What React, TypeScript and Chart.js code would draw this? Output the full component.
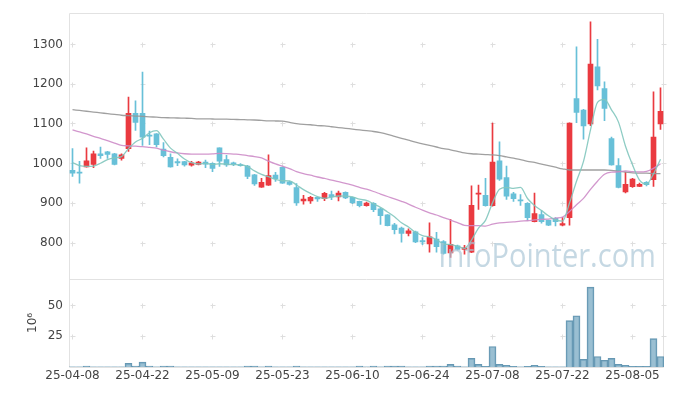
import React, { useEffect, useRef } from "react";
import { Chart, registerables } from "chart.js";

Chart.register(...registerables);

const dates = [
  "25-04-08", "25-04-09", "25-04-10", "25-04-11", "25-04-14", "25-04-15", "25-04-16", "25-04-17", "25-04-18", "25-04-21",
  "25-04-22", "25-04-23", "25-04-24", "25-04-25", "25-04-28", "25-04-29", "25-04-30", "25-05-02", "25-05-07", "25-05-08",
  "25-05-09", "25-05-12", "25-05-13", "25-05-14", "25-05-15", "25-05-16", "25-05-19", "25-05-20", "25-05-21", "25-05-22",
  "25-05-23", "25-05-26", "25-05-27", "25-05-28", "25-05-29", "25-05-30", "25-06-02", "25-06-04", "25-06-05", "25-06-09",
  "25-06-10", "25-06-11", "25-06-12", "25-06-13", "25-06-16", "25-06-17", "25-06-18", "25-06-19", "25-06-20", "25-06-23",
  "25-06-24", "25-06-25", "25-06-26", "25-06-27", "25-06-30", "25-07-01", "25-07-02", "25-07-03", "25-07-04", "25-07-07",
  "25-07-08", "25-07-09", "25-07-10", "25-07-11", "25-07-14", "25-07-15", "25-07-16", "25-07-17", "25-07-18", "25-07-21",
  "25-07-22", "25-07-23", "25-07-24", "25-07-25", "25-07-28", "25-07-29", "25-07-30", "25-07-31", "25-08-01", "25-08-04",
  "25-08-05", "25-08-06", "25-08-07", "25-08-08", "25-08-11",
];

const opens = [
  983, 979, 992, 998, 1025, 1030, 1025, 1013, 1038, 1127,
  1127, 1072, 1075, 1037, 1016, 1005, 1005, 996, 998, 1004,
  1001, 1040, 1010, 1002, 998, 994, 972, 941, 946, 971,
  991, 954, 940, 906, 906, 915, 912, 922, 916, 928,
  915, 905, 894, 900, 886, 871, 846, 838, 824, 828,
  806, 798, 810, 804, 775, 793, 784, 777, 923, 920,
  894, 1007, 965, 924, 909, 900, 854, 872, 857, 862,
  845, 864, 1164, 1135, 1100, 1244, 1189, 1063, 995, 929,
  942, 943, 953, 960, 1100,
];
const highs = [
  1038, 1006, 1040, 1032, 1042, 1031, 1026, 1025, 1168, 1158,
  1231, 1082, 1076, 1053, 1025, 1012, 1006, 1006, 1006, 1009,
  1002, 1040, 1021, 1004, 1000, 996, 973, 963, 1022, 978,
  992, 956, 950, 920, 918, 916, 928, 931, 931, 929,
  916, 906, 903, 902, 888, 872, 850, 840, 836, 830,
  814, 851, 827, 806, 860, 795, 794, 944, 946, 963,
  1102, 1055, 994, 928, 922, 902, 926, 882, 858, 864,
  865, 1103, 1294, 1137, 1357, 1313, 1206, 1067, 1013, 978,
  963, 951, 955, 1181, 1191,
];
const lows = [
  968, 951, 991, 990, 1013, 1013, 997, 1009, 1031, 1084,
  1046, 1048, 1042, 1017, 991, 995, 994, 994, 997, 990,
  980, 993, 993, 995, 994, 962, 945, 940, 945, 955,
  950, 946, 895, 898, 900, 905, 907, 909, 906, 912,
  899, 891, 893, 879, 847, 843, 823, 802, 818, 801,
  796, 777, 777, 772, 764, 782, 772, 776, 885, 893,
  893, 958, 910, 905, 895, 857, 853, 850, 844, 843,
  843, 845, 1103, 1062, 1096, 1186, 1108, 996, 939, 926,
  940, 942, 944, 943, 1086,
];
const closes = [
  976, 976, 1007, 1025, 1020, 1023, 998, 1022, 1127, 1104,
  1067, 1069, 1048, 1020, 992, 1002, 997, 1002, 1004, 999,
  988, 1006, 997, 999, 995, 968, 949, 953, 970, 962,
  951, 948, 901, 911, 915, 911, 925, 916, 926, 914,
  902, 894, 901, 884, 869, 844, 834, 824, 831, 803,
  803, 816, 791, 774, 797, 784, 788, 895, 926, 894,
  1004, 961, 918, 912, 906, 864, 874, 854, 845, 854,
  849, 1102, 1129, 1095, 1251, 1196, 1139, 997, 940, 948,
  961, 948, 947, 1067, 1132,
];

// volume in millions of shares
const volumes = [
  0.2, 0.2, 0.8, 0.2, 0.2, 0.2, 0.2, 0.2, 3.0, 0.8,
  4.0, 0.8, 0.2, 0.8, 0.8, 0.2, 0.2, 0.2, 0.2, 0.2,
  0.2, 0.2, 0.2, 0.2, 0.2, 0.8, 0.8, 0.2, 0.8, 0.2,
  0.2, 0.2, 0.8, 0.2, 0.2, 0.2, 0.2, 0.2, 0.2, 0.2,
  0.2, 0.8, 0.2, 0.8, 0.2, 0.8, 0.8, 0.8, 0.2, 0.2,
  0.2, 0.8, 0.8, 0.8, 2.2, 0.8, 0.2, 7.0, 2.2, 0.6,
  16.7, 2.2, 1.3, 0.6, 0.2, 0.6, 1.3, 0.6, 0.2, 0.2,
  0.2, 37.8, 41.8, 6.2, 65.2, 8.6, 5.5, 7.0, 2.2, 1.3,
  0.6, 0.6, 0.6, 23.2, 8.6,
];

const ma5 = [
  1003, 995, 993, 994, 1001, 1010.4, 1014.6, 1017.6, 1038, 1054.8,
  1063.6, 1077.8, 1083, 1061.6, 1039.2, 1026.2, 1011.8, 1002.6, 999.4, 1000.8,
  998, 999.8, 998.8, 997.8, 997.2, 993.2, 981.8, 973, 967.2, 960.4,
  957, 956.8, 946.4, 934.6, 925.2, 917.2, 912.6, 915.6, 918.6, 918.4,
  916.6, 910.4, 907.4, 899, 890, 878.4, 866.4, 851, 840.4, 827.2,
  819, 815.4, 808.8, 797.4, 796.2, 792.4, 786.8, 807.6, 837.8, 857.2,
  901.2, 935.8, 940.4, 937.8, 940.2, 912.2, 894.8, 882, 868.6, 858.2,
  855.2, 900.8, 955.8, 1005.8, 1085.2, 1154.6, 1162, 1135.6, 1104.6, 1044,
  997, 958.8, 948.8, 974.2, 1011,
];
const ma20 = [
  1085, 1080, 1075, 1069, 1064, 1058, 1052, 1046, 1045, 1044,
  1043, 1041, 1039, 1034, 1030, 1027, 1025, 1024, 1024, 1024,
  1024.6, 1026, 1025.5, 1024.2, 1023, 1020.3, 1017.8, 1014.4, 1006.5, 999.4,
  993.6, 987.6, 980.2, 974.8, 970.9, 966.4, 962.8, 958.5, 954.6, 950.3,
  946, 940.4, 935.6, 929.9, 923.5, 917.3, 911.6, 905.1, 898.2, 890.2,
  882.8, 876.2, 870.7, 863.9, 858, 851.6, 844.8, 843.7, 843.7, 842.7,
  847.8, 851.1, 852, 853.4, 855.2, 856.2, 858.2, 859.7, 860.4, 863,
  865.3, 879.6, 896.5, 912.5, 935.2, 955.8, 973.4, 978.5, 979.2, 981.9,
  979.8, 979.1, 980.6, 988.3, 999.6,
];
const ma120 = [
  1136, 1134, 1132, 1130, 1128, 1126, 1124, 1122, 1121, 1120,
  1119, 1118, 1117, 1116, 1115.5, 1115, 1114.5, 1114, 1113, 1113,
  1112.5, 1112, 1112, 1111.5, 1111, 1110.5, 1110, 1109, 1108, 1107.5,
  1107, 1104, 1101, 1099, 1098, 1096, 1095, 1093, 1091, 1089,
  1087, 1085, 1083, 1081, 1078, 1074, 1069, 1064, 1059, 1054,
  1050, 1046, 1042, 1038, 1035, 1031, 1027, 1025, 1024, 1023,
  1022, 1020, 1017, 1014, 1010, 1006, 1003, 999, 995, 991,
  987, 984, 984, 984, 984, 984, 984, 983, 981, 979,
  977, 976, 976, 975, 975,
];

const xTickLabels = ["25-04-08", "25-04-22", "25-05-09", "25-05-23", "25-06-10", "25-06-24", "25-07-08", "25-07-22", "25-08-05"];
const priceTicks = [800, 900, 1000, 1100, 1200, 1300];
const volumeTicks = [25, 50];
const watermark = "InfoPointer.com";
const volumeTitle = "10⁶";

const UP = "#ea3a40";
const DOWN = "#68c0d8";

const decorPlugin = {
  id: "decor",
  beforeDatasetsDraw(chart: any) {
    const { ctx, chartArea } = chart;
    const xs = chart.scales.x;
    const ys = chart.scales.y;
    const yv = chart.scales.yv;
    ctx.save();
    ctx.lineWidth = 1;
    ctx.strokeStyle = "#e2e2e2";
    const L = Math.round(chartArea.left) + 0.5;
    const R = Math.round(chartArea.right) - 0.5;
    const T = Math.round(ys.top) + 0.5;
    const M = Math.round(yv.top) + 0.5;
    const B = Math.round(yv.bottom) + 0.5;
    ctx.beginPath();
    ctx.moveTo(L, T); ctx.lineTo(R, T);
    ctx.moveTo(L, M); ctx.lineTo(R, M);
    ctx.moveTo(L, B); ctx.lineTo(R, B);
    ctx.moveTo(L, T); ctx.lineTo(L, B);
    ctx.moveTo(R, T); ctx.lineTo(R, B);
    ctx.stroke();
    ctx.strokeStyle = "#dedede";
    const xPix: number[] = xs.ticks.map((_: any, i: number) => Math.floor(xs.getPixelForTick(i)) + 0.5);
    xPix.push(R);
    const yPix: number[] = [];
    ys.ticks.forEach((_: any, i: number) => yPix.push(Math.floor(ys.getPixelForTick(i)) + 0.5));
    yv.ticks.forEach((_: any, i: number) => yPix.push(Math.floor(yv.getPixelForTick(i)) + 0.5));
    ctx.beginPath();
    for (const px of xPix) {
      for (const py of yPix) {
        ctx.moveTo(px - 2, py); ctx.lineTo(px + 3, py);
        ctx.moveTo(px, py - 2); ctx.lineTo(px, py + 3);
      }
    }
    ctx.stroke();
    ctx.restore();
  },
  afterDatasetsDraw(chart: any) {
    const { ctx, chartArea } = chart;
    const ys = chart.scales.y;
    ctx.save();
    ctx.font = '33px "Open Sans"';
    ctx.fillStyle = "rgba(170,198,214,0.68)";
    ctx.textAlign = "right";
    ctx.textBaseline = "alphabetic";
    ctx.translate(chartArea.right - 8, ys.bottom - 12);
    ctx.scale(0.88, 1);
    ctx.fillText(watermark, 0, 0);
    ctx.restore();
  },
};

export default function App() {
  const ref = useRef<HTMLCanvasElement | null>(null);

  useEffect(() => {
    if (!ref.current) return;
    Chart.defaults.font.family = '"DejaVu Sans", sans-serif';
    Chart.defaults.font.size = 12;
    Chart.defaults.color = "#444";

    const colors = opens.map((o, i) => (closes[i] >= o ? UP : DOWN));
    const wicks = lows.map((l, i) => [l, highs[i]]);
    const bodies = opens.map((o, i) => [Math.min(o, closes[i]), Math.max(o, closes[i])]);
    const plain = (v: any) => String(v);

    const chart = new Chart(ref.current, {
      type: "bar",
      data: {
        labels: dates,
        datasets: [
          {
            type: "line", label: "MA5", data: ma5, yAxisID: "y", order: 0,
            borderColor: "rgba(130,198,190,0.9)", borderWidth: 1.3, pointRadius: 0,
            cubicInterpolationMode: "monotone", fill: false,
          } as any,
          {
            type: "line", label: "MA20", data: ma20, yAxisID: "y", order: 0,
            borderColor: "rgba(205,140,200,0.9)", borderWidth: 1.3, pointRadius: 0,
            cubicInterpolationMode: "monotone", fill: false,
          } as any,
          {
            type: "line", label: "MA120", data: ma120, yAxisID: "y", order: 0,
            borderColor: "rgba(150,150,150,0.9)", borderWidth: 1.3, pointRadius: 0,
            cubicInterpolationMode: "monotone", fill: false,
          } as any,
          {
            type: "bar", label: "body", data: bodies as any, yAxisID: "y", order: 1,
            backgroundColor: colors, borderWidth: 0, barThickness: 5, grouped: false,
          } as any,
          {
            type: "bar", label: "wick", data: wicks as any, yAxisID: "y", order: 2,
            backgroundColor: colors, borderWidth: 0, barThickness: 1, grouped: false,
          } as any,
          {
            type: "bar", label: "volume", data: volumes, yAxisID: "yv", order: 3,
            backgroundColor: "rgba(120,170,195,0.75)", borderColor: "rgba(85,140,170,0.9)",
            borderWidth: 1, barPercentage: 1, categoryPercentage: 1, grouped: false,
          } as any,
        ],
      },
      options: {
        responsive: false,
        animation: false,
        layout: { padding: { top: 10, right: 9, left: 0, bottom: 0 } },
        plugins: { legend: { display: false }, tooltip: { enabled: false } },
        scales: {
          x: {
            type: "category",
            offset: true,
            grid: { display: false, drawTicks: false },
            border: { display: false },
            ticks: { autoSkip: false, maxRotation: 0, minRotation: 0, padding: 2, color: "#444", font: { size: 12 } },
            afterBuildTicks: (s: any) => {
              s.ticks = s.ticks.filter((t: any) => xTickLabels.includes(dates[t.value]));
            },
            afterFit: (s: any) => { s.height = 29; },
          },
          yv: {
            type: "linear",
            position: "left",
            stack: "panels",
            stackWeight: 89,
            min: 0,
            max: 72,
            grid: { display: false, drawTicks: false },
            border: { display: false },
            ticks: { padding: 6, color: "#444", callback: plain },
            title: { display: true, text: volumeTitle, color: "#444", font: { size: 12 }, padding: { top: 26, bottom: 0 } },
            afterBuildTicks: (s: any) => { s.ticks = volumeTicks.map((v) => ({ value: v })); },
            afterFit: (s: any) => { s.width = 69; },
          },
          y: {
            type: "linear",
            position: "left",
            stack: "panels",
            stackWeight: 268,
            min: 710,
            max: 1379,
            grid: { display: false, drawTicks: false },
            border: { display: false },
            ticks: { padding: 6, color: "#444", callback: plain },
            afterBuildTicks: (s: any) => { s.ticks = priceTicks.map((v) => ({ value: v })); },
            afterFit: (s: any) => { s.width = 69; },
          },
        } as any,
      },
      plugins: [decorPlugin],
    });
    return () => chart.destroy();
  }, []);

  return (
    <div style={{ position: "fixed", left: 0, top: 0, width: 673, height: 396, background: "#fff" }}>
      <canvas ref={ref} width={673} height={396} style={{ display: "block", width: 673, height: 396 }} />
    </div>
  );
}
